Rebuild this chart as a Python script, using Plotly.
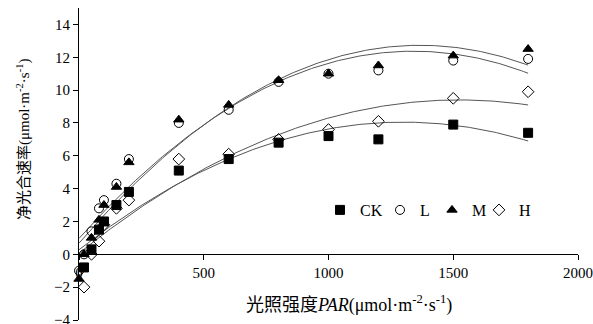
import numpy as np
import plotly.graph_objects as go

# PAR values (µmol·m-2·s-1)
par_a = [0, 20, 50, 80, 100, 150, 200, 400, 600, 800, 1000, 1200, 1500, 1800]
par_b = [20, 50, 80, 100, 150, 200, 400, 600, 800, 1000, 1200, 1500, 1800]

# Net photosynthetic rate (µmol·m-2·s-1)
ck = [-0.8, 0.3, 1.5, 2.0, 3.0, 3.8, 5.1, 5.8, 6.8, 7.2, 7.0, 7.9, 7.4]
l_ = [-1.0, 0.0, 1.4, 2.8, 3.3, 4.3, 5.8, 8.0, 8.8, 10.5, 11.0, 11.2, 11.8, 11.9]
m_ = [-1.5, 0.0, 1.0, 2.1, 3.0, 4.1, 5.6, 8.2, 9.1, 10.6, 11.0, 11.5, 12.1, 12.5]
h_ = [-2.0, 0.0, 0.8, 1.8, 2.8, 3.3, 5.8, 6.1, 7.0, 7.6, 8.1, 9.5, 9.9]

# quadratic fit coefficients [a, b, c] for y = a*x^2 + b*x + c (as drawn)
fit_ck = [-4.60e-6, 0.01196, 0.276]
fit_l = [-6.35e-6, 0.017018, 0.968]
fit_m = [-6.45e-6, 0.017634, 0.677]
fit_h = [-4.02e-6, 0.01225, 0.07]
fit_range = [0, 1800]

series = [
    ("CK", par_b, ck, fit_ck, "square", "black", "legend"),
    ("L", par_a, l_, fit_l, "circle-open", "black", "legend2"),
    ("M", par_a, m_, fit_m, "triangle-up", "black", "legend3"),
    ("H", par_b, h_, fit_h, "diamond-open", "black", "legend4"),
]

xfit = np.linspace(fit_range[0], fit_range[1], 200)
fig = go.Figure()
for name, xs, ys, coef, sym, col, lg in series:
    fig.add_trace(go.Scatter(x=xfit, y=np.polyval(coef, xfit), mode="lines",
                             line=dict(color="#555555", width=1), showlegend=False,
                             hoverinfo="skip"))
for name, xs, ys, coef, sym, col, lg in series:
    fig.add_trace(go.Scatter(x=xs, y=ys, mode="markers", name=name, legend=lg,
                             marker=dict(symbol=sym, size=9, color=col,
                                         line=dict(color="black", width=1)),
                             cliponaxis=False))

serif = "Liberation Serif, Times New Roman, serif"
W, H = 593, 324
pl, pr, pt, pb = 79, 15, 8, 4
pw, ph = W - pl - pr, H - pt - pb
def px_to_paper(px, py):
    return (px - pl) / pw, 1 - (py - pt) / ph
ax1 = px_to_paper(349, 304)
ax2 = px_to_paper(23, 140)

def legend_at(px_sym, py):
    x, y = px_to_paper(px_sym - 20, py)
    return dict(orientation="h", x=x, y=y, xanchor="left", yanchor="middle",
                font=dict(size=16, family=serif), itemwidth=30,
                bgcolor="rgba(0,0,0,0)", borderwidth=0)

fig.update_layout(
    width=W, height=H,
    margin=dict(l=pl, r=pr, t=pt, b=pb, autoexpand=False),
    paper_bgcolor="white", plot_bgcolor="white",
    font=dict(family=serif, size=15, color="black"),
    showlegend=True,
    legend=legend_at(340, 210),
    legend2=legend_at(400, 210),
    legend3=legend_at(452, 210),
    legend4=legend_at(499, 210),
    xaxis=dict(range=[0, 2000], tickvals=[0, 500, 1000, 1500, 2000],
               showgrid=False, zeroline=False, showline=True, linecolor="black",
               linewidth=1, ticks="outside", ticklen=5, tickcolor="black",
               anchor="free", position=4/19, automargin=False,
               ticklabeloverflow="allow"),
    yaxis=dict(range=[-4, 15], tickvals=list(range(-4, 15, 2)),
               showgrid=False, zeroline=False, showline=True, linecolor="black",
               linewidth=1, ticks="outside", ticklen=5, tickcolor="black",
               automargin=False, ticklabeloverflow="allow"),
    annotations=[
        dict(text="光照强度<i>PAR</i>(μmol·m<sup>-2</sup>·s<sup>-1</sup>)",
             x=ax1[0], y=ax1[1], xref="paper", yref="paper", showarrow=False,
             xanchor="center", yanchor="middle",
             font=dict(size=18, family="Liberation Serif, Noto Sans CJK SC")),
        dict(text="净光合速率(μmol·m<sup>-2</sup>·s<sup>-1</sup>)", textangle=-90,
             x=ax2[0], y=ax2[1], xref="paper", yref="paper", showarrow=False,
             xanchor="center", yanchor="middle",
             font=dict(size=15, family="Liberation Serif, Noto Sans CJK SC")),
    ],
)
fig.write_html("out.html", config={"displayModeBar": False},
               post_script="document.body.style.margin='0px';")
